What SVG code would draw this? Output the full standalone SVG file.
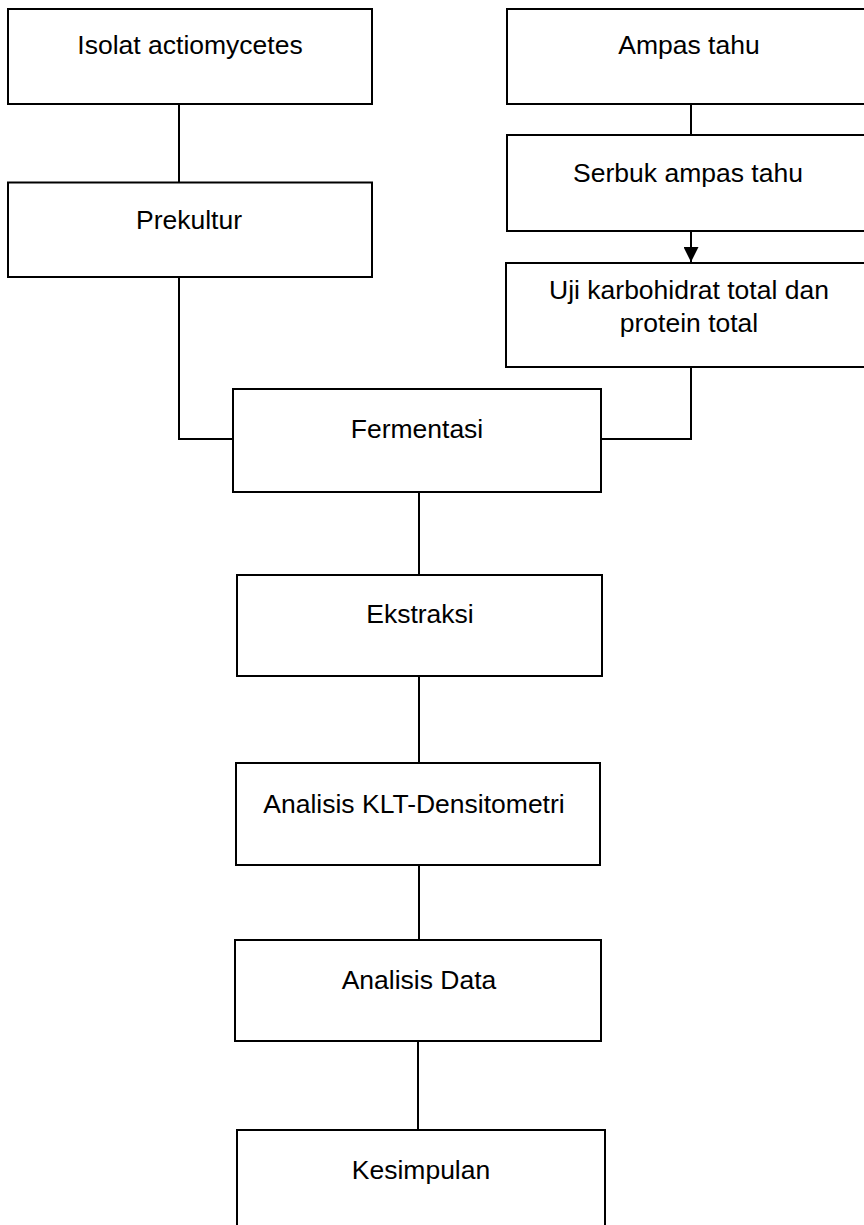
<svg xmlns="http://www.w3.org/2000/svg" width="864" height="1225" viewBox="0 0 864 1225">
<style>
.box{fill:#fff;stroke:#000;stroke-width:2}
.lbl{font-family:"Liberation Sans",Arial,sans-serif;font-size:26.5px;fill:#000;text-anchor:middle}
.conn{fill:none;stroke:#000;stroke-width:2}
</style>
<defs>
<marker id="arr" markerUnits="userSpaceOnUse" markerWidth="15" markerHeight="15" refX="15" refY="7.5" orient="auto">
<path d="M0,0 L15,7.5 L0,15 z" fill="#000"/>
</marker>
</defs>
<rect width="864" height="1225" fill="#fff"/>
<g id="connectors">
<line class="conn" x1="179" y1="104" x2="179" y2="182"/>
<polyline class="conn" points="179,277 179,439 233,439"/>
<polyline class="conn" points="691,367 691,439 601,439"/>
<line class="conn" x1="691" y1="104" x2="691" y2="135"/>
<line class="conn" x1="691" y1="231" x2="691" y2="262" marker-end="url(#arr)"/>
<line class="conn" x1="419" y1="492" x2="419" y2="575"/>
<line class="conn" x1="419" y1="676" x2="419" y2="763"/>
<line class="conn" x1="419" y1="865" x2="419" y2="940"/>
<line class="conn" x1="418" y1="1041" x2="418" y2="1130"/>
</g>
<g id="isolat">
<rect class="box" x="8" y="9" width="364" height="95"/>
<text class="lbl" x="190" y="54">Isolat actiomycetes</text>
</g>
<g id="prekultur">
<rect class="box" x="8" y="182.5" width="364" height="94.5"/>
<text class="lbl" x="189" y="229">Prekultur</text>
</g>
<g id="ampas">
<rect class="box" x="507" y="9" width="364" height="95"/>
<text class="lbl" x="689" y="54">Ampas tahu</text>
</g>
<g id="serbuk">
<rect class="box" x="507" y="135" width="364" height="96"/>
<text class="lbl" x="688" y="182">Serbuk ampas tahu</text>
</g>
<g id="uji">
<rect class="box" x="506" y="263" width="365" height="104"/>
<text class="lbl" x="689" y="299">Uji karbohidrat total dan</text>
<text class="lbl" x="689" y="332">protein total</text>
</g>
<g id="fermentasi">
<rect class="box" x="233" y="389" width="368" height="103"/>
<text class="lbl" x="417" y="438">Fermentasi</text>
</g>
<g id="ekstraksi">
<rect class="box" x="237" y="575" width="365" height="101"/>
<text class="lbl" x="420" y="623">Ekstraksi</text>
</g>
<g id="klt">
<rect class="box" x="236" y="763" width="364" height="102"/>
<text class="lbl" x="414" y="813">Analisis KLT-Densitometri</text>
</g>
<g id="data">
<rect class="box" x="235" y="940" width="366" height="101"/>
<text class="lbl" x="419" y="989">Analisis Data</text>
</g>
<g id="kesimpulan">
<rect class="box" x="237" y="1130" width="368" height="110"/>
<text class="lbl" x="421" y="1179">Kesimpulan</text>
</g>
</svg>
